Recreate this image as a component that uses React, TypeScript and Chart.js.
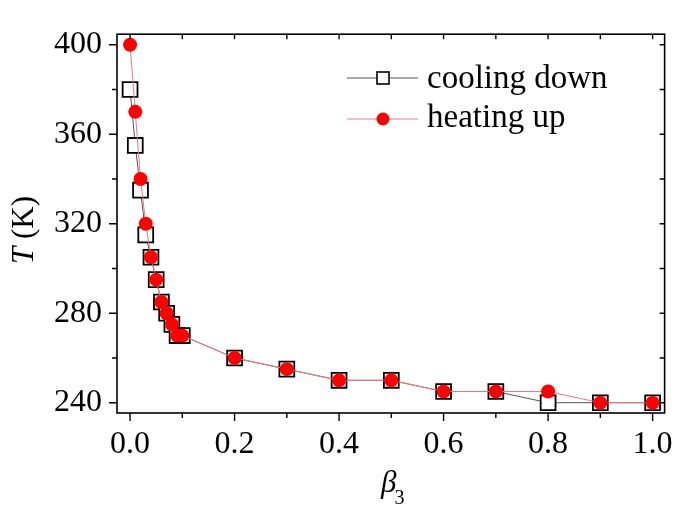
import React, { useEffect, useRef } from 'react';
import { Chart, registerables } from 'chart.js';
Chart.register(...registerables);

const beta = [0, 0.01, 0.02, 0.03, 0.04, 0.05, 0.06, 0.07, 0.08, 0.09, 0.1, 0.2, 0.3, 0.4, 0.5, 0.6, 0.7, 0.8, 0.9, 1.0];
const coolingT = [380, 355, 335, 315, 305, 295, 285, 280, 275, 270, 270, 260, 255, 250, 250, 245, 245, 240, 240, 240];
const heatingT = [400, 370, 340, 320, 305, 295, 285, 280, 275, 270, 270, 260, 255, 250, 250, 245, 245, 245, 240, 240];
const xMajor = [0, 0.2, 0.4, 0.6, 0.8, 1.0];
const xMinor = [0.1, 0.3, 0.5, 0.7, 0.9];
const yMajor = [240, 280, 320, 360, 400];
const yMinor = [260, 300, 340, 380];
const seriesNames = ['cooling down', 'heating up'];

const SERIF = "'Liberation Serif', 'Times New Roman', serif";

const framePlugin = {
  id: 'frame',
  afterDraw(chart: any) {
    const { ctx, chartArea: a, scales } = chart;
    const xs = scales.x, ys = scales.y;
    ctx.save();
    ctx.strokeStyle = '#000';
    ctx.lineWidth = 1.6;
    ctx.strokeRect(a.left, a.top, a.right - a.left, a.bottom - a.top);
    ctx.lineWidth = 1.4;
    ctx.beginPath();
    const tx = (v: number, outLen: number, inLen: number) => {
      const p = xs.getPixelForValue(v);
      ctx.moveTo(p, a.bottom); ctx.lineTo(p, a.bottom + outLen);
      ctx.moveTo(p, a.top); ctx.lineTo(p, a.top + inLen);
    };
    const ty = (v: number, outLen: number, inLen: number) => {
      const p = ys.getPixelForValue(v);
      ctx.moveTo(a.left, p); ctx.lineTo(a.left - outLen, p);
      ctx.moveTo(a.right, p); ctx.lineTo(a.right - inLen, p);
    };
    xMajor.forEach(v => tx(v, 8, 5));
    xMinor.forEach(v => tx(v, 5, 5));
    yMajor.forEach(v => ty(v, 8, 5));
    yMinor.forEach(v => ty(v, 5, 5));
    ctx.stroke();

    // axis titles
    ctx.fillStyle = '#000';
    ctx.save();
    ctx.translate(33, 230);
    ctx.rotate(-Math.PI / 2);
    ctx.textBaseline = 'alphabetic';
    ctx.font = `italic 31px ${SERIF}`;
    const tW = ctx.measureText('T').width;
    ctx.font = `31px ${SERIF}`;
    const rest = ' (K)';
    const rW = ctx.measureText(rest).width;
    const start = -(tW + rW) / 2;
    ctx.textAlign = 'left';
    ctx.font = `italic 31px ${SERIF}`;
    ctx.fillText('T', start, 0);
    ctx.font = `31px ${SERIF}`;
    ctx.fillText(rest, start + tW, 0);
    ctx.restore();

    ctx.textAlign = 'left';
    ctx.textBaseline = 'alphabetic';
    ctx.font = `italic 31px ${SERIF}`;
    const bW = ctx.measureText('β').width;
    const bx = 381;
    ctx.fillText('β', bx, 492);
    ctx.font = `20px ${SERIF}`;
    ctx.fillText('3', bx + bW - 2, 504);

    // legend
    const items = [
      { y: 78, base: 88, color: '#555', square: true },
      { y: 119, base: 127, color: '#f07878', square: false },
    ];
    items.forEach((it, i) => {
      ctx.strokeStyle = it.color;
      ctx.lineWidth = 1;
      ctx.beginPath();
      ctx.moveTo(347, it.y); ctx.lineTo(418, it.y);
      ctx.stroke();
      if (it.square) {
        ctx.fillStyle = '#fff';
        ctx.fillRect(377, it.y - 6, 12, 12);
        ctx.strokeStyle = '#000';
        ctx.lineWidth = 1.6;
        ctx.strokeRect(377, it.y - 6, 12, 12);
      } else {
        ctx.fillStyle = '#ff0000';
        ctx.beginPath();
        ctx.arc(383, it.y, 6.5, 0, Math.PI * 2);
        ctx.fill();
      }
      ctx.fillStyle = '#000';
      ctx.font = `33px ${SERIF}`;
      ctx.textBaseline = 'alphabetic';
      ctx.fillText(seriesNames[i], 427, it.base);
    });
    ctx.restore();
  },
};

export default function App() {
  const ref = useRef<HTMLCanvasElement>(null);
  useEffect(() => {
    document.body.style.margin = '0';
    const chart = new Chart(ref.current!, {
      type: 'line',
      data: {
        datasets: [
          {
            label: seriesNames[0],
            data: beta.map((b, i) => ({ x: b, y: coolingT[i] })),
            borderColor: '#555',
            borderWidth: 1,
            pointStyle: 'rect',
            pointRadius: 10.5,
            pointBackgroundColor: '#fff',
            pointBorderColor: '#000',
            pointBorderWidth: 1.8,
            order: 1,
          },
          {
            label: seriesNames[1],
            data: beta.map((b, i) => ({ x: b, y: heatingT[i] })),
            borderColor: '#f07878',
            borderWidth: 1,
            pointStyle: 'circle',
            pointRadius: 7,
            pointBackgroundColor: '#ff0000',
            pointBorderColor: '#ff0000',
            pointBorderWidth: 0,
            order: 0,
          },
        ],
      },
      options: {
        responsive: false,
        animation: false,
        layout: { padding: { top: 10, right: 18, left: 0, bottom: 0 } },
        plugins: { legend: { display: false }, tooltip: { enabled: false } },
        scales: {
          x: {
            type: 'linear',
            min: -0.025,
            max: 1.023,
            grid: { display: false, drawTicks: false },
            border: { display: false },
            afterBuildTicks: (s: any) => { s.ticks = xMajor.map(v => ({ value: v })); },
            afterFit: (s: any) => { s.height = 99; },
            ticks: {
              color: '#000',
              padding: 12,
              font: { family: SERIF, size: 32 },
              callback: (v: any) => Number(v).toFixed(1),
            },
          },
          y: {
            type: 'linear',
            min: 235.4,
            max: 404.7,
            grid: { display: false, drawTicks: false },
            border: { display: false },
            afterBuildTicks: (s: any) => { s.ticks = yMajor.map(v => ({ value: v })); },
            afterFit: (s: any) => { s.width = 117; },
            ticks: {
              color: '#000',
              padding: 15,
              font: { family: SERIF, size: 32 },
              callback: (v: any) => String(v),
            },
          },
        },
      },
      plugins: [framePlugin],
    });
    return () => chart.destroy();
  }, []);
  return (
    <div style={{ position: 'fixed', left: 0, top: 0, width: 685, height: 512, background: '#fff' }}>
      <canvas ref={ref} width={685} height={512} />
    </div>
  );
}
